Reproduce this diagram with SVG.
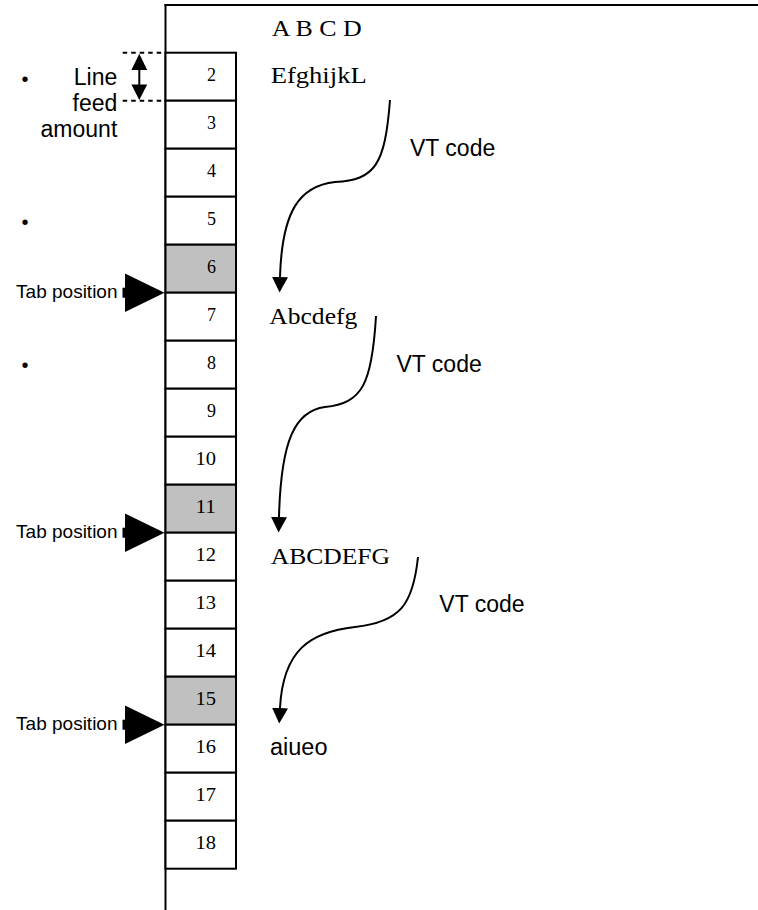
<svg xmlns="http://www.w3.org/2000/svg" width="758" height="910" viewBox="0 0 758 910">
<style>
.ln{stroke:#000;stroke-width:2;fill:none}
.cell{stroke:#000;stroke-width:2;fill:#fff}
.tab{fill:#c0c0c0}
.num{font-family:"Liberation Serif","Times New Roman",serif;font-size:18px;text-anchor:end;fill:#000}
.ser{font-family:"Liberation Serif","Times New Roman",serif;font-size:24px;fill:#000}
.sans{font-family:"Liberation Sans",Arial,sans-serif;font-size:23px;fill:#000}
.tabt{font-family:"Liberation Sans",Arial,sans-serif;font-size:19px;fill:#000;text-anchor:end}
.blt{font-family:"Liberation Sans",Arial,sans-serif;font-size:20px;fill:#000;text-anchor:middle}
.dash{stroke:#000;stroke-width:2;stroke-dasharray:4.5 4;fill:none}
</style>
<defs>
<marker id="ah" markerUnits="userSpaceOnUse" markerWidth="16" markerHeight="18" refX="0" refY="8" orient="auto" viewBox="0 0 16 16">
<path d="M0,0 L15.5,8 L0,16 Z" fill="#000"/>
</marker>
</defs>
<rect width="758" height="910" fill="#fff"/>
<g id="frame">
<line class="ln" x1="164.5" y1="5" x2="758" y2="5"/>
<line class="ln" x1="165.5" y1="4" x2="165.5" y2="910"/>
</g>
<g id="cells">
<g id="row2"><rect class="cell" x="165.5" y="52.7" width="70.5" height="48"/><text class="num" x="216" y="80.7">2</text></g>
<g id="row3"><rect class="cell" x="165.5" y="100.7" width="70.5" height="48"/><text class="num" x="216" y="128.7">3</text></g>
<g id="row4"><rect class="cell" x="165.5" y="148.7" width="70.5" height="48"/><text class="num" x="216" y="176.7">4</text></g>
<g id="row5"><rect class="cell" x="165.5" y="196.7" width="70.5" height="48"/><text class="num" x="216" y="224.7">5</text></g>
<g id="row6"><rect class="cell tab" x="165.5" y="244.7" width="70.5" height="48"/><text class="num" x="216" y="272.7">6</text></g>
<g id="row7"><rect class="cell" x="165.5" y="292.7" width="70.5" height="48"/><text class="num" x="216" y="320.7">7</text></g>
<g id="row8"><rect class="cell" x="165.5" y="340.7" width="70.5" height="48"/><text class="num" x="216" y="368.7">8</text></g>
<g id="row9"><rect class="cell" x="165.5" y="388.7" width="70.5" height="48"/><text class="num" x="216" y="416.7">9</text></g>
<g id="row10"><rect class="cell" x="165.5" y="436.7" width="70.5" height="48"/><text class="num" x="216" y="464.7" textLength="20.5" lengthAdjust="spacingAndGlyphs">10</text></g>
<g id="row11"><rect class="cell tab" x="165.5" y="484.7" width="70.5" height="48"/><text class="num" x="216" y="512.7" textLength="20.5" lengthAdjust="spacingAndGlyphs">11</text></g>
<g id="row12"><rect class="cell" x="165.5" y="532.7" width="70.5" height="48"/><text class="num" x="216" y="560.7" textLength="20.5" lengthAdjust="spacingAndGlyphs">12</text></g>
<g id="row13"><rect class="cell" x="165.5" y="580.7" width="70.5" height="48"/><text class="num" x="216" y="608.7" textLength="20.5" lengthAdjust="spacingAndGlyphs">13</text></g>
<g id="row14"><rect class="cell" x="165.5" y="628.7" width="70.5" height="48"/><text class="num" x="216" y="656.7" textLength="20.5" lengthAdjust="spacingAndGlyphs">14</text></g>
<g id="row15"><rect class="cell tab" x="165.5" y="676.7" width="70.5" height="48"/><text class="num" x="216" y="704.7" textLength="20.5" lengthAdjust="spacingAndGlyphs">15</text></g>
<g id="row16"><rect class="cell" x="165.5" y="724.7" width="70.5" height="48"/><text class="num" x="216" y="752.7" textLength="20.5" lengthAdjust="spacingAndGlyphs">16</text></g>
<g id="row17"><rect class="cell" x="165.5" y="772.7" width="70.5" height="48"/><text class="num" x="216" y="800.7" textLength="20.5" lengthAdjust="spacingAndGlyphs">17</text></g>
<g id="row18"><rect class="cell" x="165.5" y="820.7" width="70.5" height="48"/><text class="num" x="216" y="848.7" textLength="20.5" lengthAdjust="spacingAndGlyphs">18</text></g>
</g>
<g id="lines-text">
<text class="ser" x="271.7" y="36" textLength="90" lengthAdjust="spacingAndGlyphs" style="font-size:23px">A B C D</text>
<text class="ser" x="270.7" y="83.3" textLength="96" lengthAdjust="spacingAndGlyphs">EfghijkL</text>
<text class="ser" x="269.3" y="324" textLength="88" lengthAdjust="spacingAndGlyphs">Abcdefg</text>
<text class="ser" x="270.7" y="564.3" textLength="119.3" lengthAdjust="spacingAndGlyphs">ABCDEFG</text>
<text class="sans" x="270" y="755" textLength="57.5" lengthAdjust="spacingAndGlyphs">aiueo</text>
</g>
<g id="vt-labels">
<text class="sans" x="410" y="156">VT code</text>
<text class="sans" x="396.5" y="371.7">VT code</text>
<text class="sans" x="439.3" y="611.7">VT code</text>
</g>
<g id="line-feed">
<line class="dash" x1="122.7" y1="52.7" x2="165.5" y2="52.7"/>
<line class="dash" x1="122.7" y1="100.7" x2="165.5" y2="100.7"/>
<line class="ln" x1="139.3" y1="66" x2="139.3" y2="88"/>
<path d="M139.3,53.7 L147.2,70 L131.4,70 Z" fill="#000"/>
<path d="M139.3,100 L147.2,84.5 L131.4,84.5 Z" fill="#000"/>
<text class="sans" text-anchor="end" x="117.3" y="85">Line</text>
<text class="sans" text-anchor="end" x="117.3" y="110.7">feed</text>
<text class="sans" text-anchor="end" x="117.3" y="136.7">amount</text>
</g>
<g id="bullets">
<text class="blt" x="25" y="85.5">•</text>
<text class="blt" x="25" y="228.5">•</text>
<text class="blt" x="25" y="371.5">•</text>
</g>
<g id="tab6">
<rect x="122.5" y="287.7" width="3.5" height="10" fill="#000"/>
<path d="M125,273.5 L164.5,292.7 L125,311.9 Z" fill="#000"/>
<text class="tabt" x="117.5" y="297.7">Tab position</text>
</g>
<g id="tab11">
<rect x="122.5" y="527.7" width="3.5" height="10" fill="#000"/>
<path d="M125,513.5 L164.5,532.7 L125,551.9 Z" fill="#000"/>
<text class="tabt" x="117.5" y="537.7">Tab position</text>
</g>
<g id="tab15">
<rect x="122.5" y="719.7" width="3.5" height="10" fill="#000"/>
<path d="M125,705.5 L164.5,724.7 L125,743.9 Z" fill="#000"/>
<text class="tabt" x="117.5" y="729.7">Tab position</text>
</g>
<g id="connectors">
<path class="ln" marker-end="url(#ah)" d="M390,100 C385,165 375,180 335,182 C300,186 282,210 280,277"/>
<path class="ln" marker-end="url(#ah)" d="M376,316 C372,385 362,403 325,407 C295,411 281,440 279,517"/>
<path class="ln" marker-end="url(#ah)" d="M418,557 C413,605 400,622 355,627 C310,632 283,650 280,708"/>
</g>
</svg>
